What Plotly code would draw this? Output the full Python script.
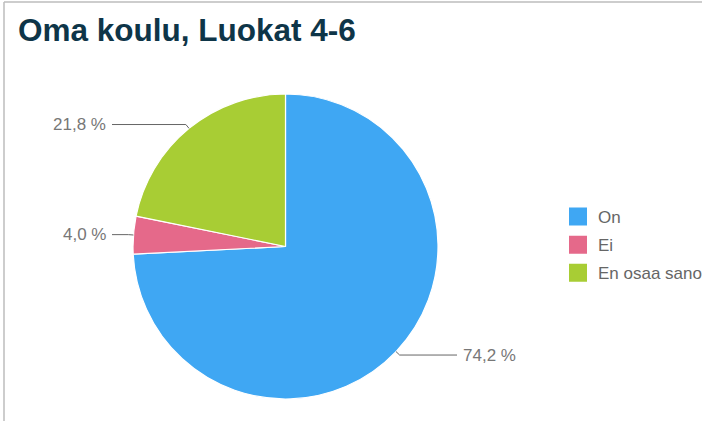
import math
import plotly.graph_objects as go

# data
labels = ["On", "Ei", "En osaa sanoa"]
values = [74.2, 4.0, 21.8]
colors = ["#3FA7F3", "#E5698A", "#A8CD34"]
title = "Oma koulu, Luokat 4-6"

W, H = 702, 421
# pie placement (pixels)
cx, cy, r = 285.5, 246.5, 152.5


def px_x(x):
    return x / W


def px_y(y):
    return 1 - y / H


fig = go.Figure()

fig.add_trace(go.Pie(
    labels=labels, values=values, sort=False, direction="clockwise", rotation=0,
    marker=dict(colors=colors, line=dict(color="white", width=1.2)),
    textinfo="none", hoverinfo="label+percent", showlegend=False,
    domain=dict(x=[px_x(cx - r), px_x(cx + r)], y=[px_y(cy + r), px_y(cy - r)]),
))

# legend entries as dummy traces so square size / spacing can be set
for lab, col in zip(labels, colors):
    fig.add_trace(go.Scatter(
        x=[None], y=[None], mode="markers", name=lab, legendgroup=lab,
        marker=dict(symbol="square", size=16, color=col, line=dict(color=col, width=2)),
    ))

# outside labels with leader lines
shapes = []
annotations = []
cum = 0
for v in values:
    mid = 2 * math.pi * (cum + v / 2) / sum(values)
    cum += v
    ex, ey = cx + r * math.sin(mid), cy - r * math.cos(mid)
    bx, by = cx + (r + 5) * math.sin(mid), cy - (r + 5) * math.cos(mid)
    if ex < cx:
        lx, tx, anchor = 112, 108, "right"
    else:
        lx, tx, anchor = 457, 461, "left"
    for (x0, y0, x1, y1) in [(ex, ey, bx, by), (bx, by, lx, by)]:
        shapes.append(dict(type="line", xref="paper", yref="paper",
                           x0=px_x(x0), y0=px_y(y0), x1=px_x(x1), y1=px_y(y1),
                           line=dict(color="#666666", width=1)))
    annotations.append(dict(
        x=px_x(tx), y=px_y(by), xref="paper", yref="paper", showarrow=False,
        xanchor=anchor, yanchor="middle",
        text=f"{v:.1f}".replace(".", ",") + " %",
        font=dict(family="Arial", size=17, color="#777777"),
    ))

# frame
shapes.append(dict(type="line", xref="paper", yref="paper", x0=px_x(4), y0=px_y(2), x1=1, y1=px_y(2),
                   line=dict(color="#bdbdbd", width=1.5)))
shapes.append(dict(type="line", xref="paper", yref="paper", x0=px_x(4), y0=px_y(2), x1=px_x(4), y1=0,
                   line=dict(color="#bdbdbd", width=1.5)))

fig.update_layout(
    width=W, height=H,
    margin=dict(l=0, r=0, t=0, b=0, autoexpand=False),
    paper_bgcolor="white", plot_bgcolor="white",
    title=dict(text=f"<b>{title}</b>", x=px_x(18), xanchor="left", y=1 - 30 / H, yanchor="middle",
               font=dict(family="Arial", size=31.5, color="#0E3548")),
    xaxis=dict(visible=False), yaxis=dict(visible=False),
    legend=dict(x=px_x(558), xanchor="left", y=px_y(199), yanchor="top",
                font=dict(family="Arial", size=17, color="#666666"),
                tracegroupgap=3, bgcolor="rgba(0,0,0,0)"),
    shapes=shapes, annotations=annotations,
)

fig.write_html("out.html", config={"displayModeBar": False},
               post_script="document.body.style.margin='0';")
